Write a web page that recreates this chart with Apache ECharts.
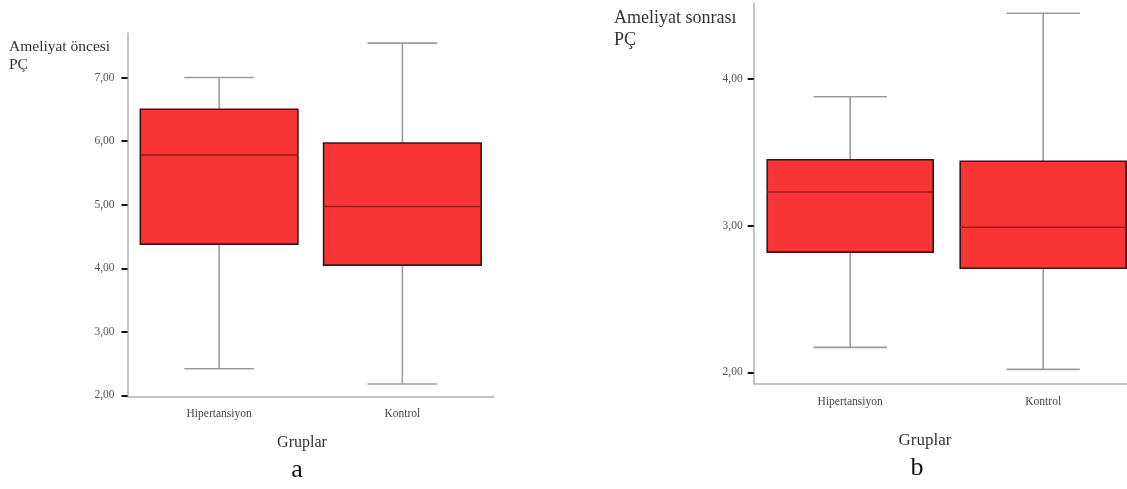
<!DOCTYPE html>
<html>
<head>
<meta charset="utf-8">
<script src="https://cdn.jsdelivr.net/npm/echarts@6/dist/echarts.min.js"></script>
<style>
  html, body { margin: 0; padding: 0; background: #fff; overflow: hidden; }
  /* the right panel's axis runs past the picture edge, so the canvas is a bit wider than the window */
  #main { width: 1142px; height: 489px; }
</style>
</head>
<body>
<div id="main"></div>
<script>
// groups
const categories = ['Hipertansiyon', 'Kontrol']

// a: Ameliyat öncesi PÇ
const preMin = [2.42, 2.18]
const preQ1 = [4.38, 4.05]
const preMedian = [5.78, 4.97]
const preQ3 = [6.50, 5.97]
const preMax = [7.00, 7.54]
const preTicks = [2, 3, 4, 5, 6, 7]

// b: Ameliyat sonrası PÇ
const postMin = [2.17, 2.02]
const postQ1 = [2.82, 2.71]
const postMedian = [3.23, 2.99]
const postQ3 = [3.45, 3.44]
const postMax = [3.88, 4.45]
const postTicks = [2, 3, 4]

const serif = 'Liberation Serif'

function rows (mins, q1s, meds, q3s, maxs) {
  return categories.map((c, i) => [i, mins[i], q1s[i], meds[i], q3s[i], maxs[i]])
}

// spss-like box: red box, grey whiskers with short caps
function renderBox (params, api) {
  const cat = api.value(0)
  const band = api.size([1, 0])[0]
  const bw = band * 0.86
  const cw = band * 0.38
  const pMin = api.coord([cat, api.value(1)])
  const pQ1 = api.coord([cat, api.value(2)])
  const pMed = api.coord([cat, api.value(3)])
  const pQ3 = api.coord([cat, api.value(4)])
  const pMax = api.coord([cat, api.value(5)])
  const x = pMin[0]
  const whisker = { stroke: '#9c9c9c', lineWidth: 1.6 }
  return {
    type: 'group',
    children: [
      { type: 'line', shape: { x1: x, y1: pMax[1], x2: x, y2: pQ3[1] }, style: whisker },
      { type: 'line', shape: { x1: x, y1: pQ1[1], x2: x, y2: pMin[1] }, style: whisker },
      { type: 'line', shape: { x1: x - cw / 2, y1: pMax[1], x2: x + cw / 2, y2: pMax[1] }, style: whisker },
      { type: 'line', shape: { x1: x - cw / 2, y1: pMin[1], x2: x + cw / 2, y2: pMin[1] }, style: whisker },
      {
        type: 'rect',
        shape: { x: x - bw / 2, y: pQ3[1], width: bw, height: pQ1[1] - pQ3[1] },
        style: { fill: '#f83434', stroke: '#3a1515', lineWidth: 1.6 }
      },
      { type: 'line', shape: { x1: x - bw / 2, y1: pMed[1], x2: x + bw / 2, y2: pMed[1] }, style: { stroke: '#9b1c1c', lineWidth: 1.5 } }
    ]
  }
}

function xAxisOf (grid, margin) {
  return {
    type: 'category',
    gridIndex: grid,
    data: categories,
    axisLine: { lineStyle: { color: '#b0b0b0', width: 1.5 } },
    axisTick: { alignWithLabel: true, length: 6, lineStyle: { color: '#111', width: 2 } },
    axisLabel: { margin: margin, color: '#444', fontFamily: serif, fontSize: 11.5 },
    splitLine: { show: false }
  }
}

function yAxisOf (grid, min, max, ticks, margin) {
  return {
    type: 'value',
    gridIndex: grid,
    min: min,
    max: max,
    axisLine: { show: true, lineStyle: { color: '#b0b0b0', width: 1.5 } },
    axisTick: { show: true, length: 6, customValues: ticks, lineStyle: { color: '#111', width: 2 } },
    axisLabel: {
      customValues: ticks,
      margin: margin,
      color: '#555',
      fontFamily: serif,
      fontSize: 11.5,
      formatter: v => v.toFixed(2).replace('.', ',')
    },
    splitLine: { show: false }
  }
}

function text (str, x, y, size, align, color) {
  return {
    type: 'text',
    x: x,
    y: y,
    style: { text: str, font: size + 'px "' + serif + '"', fill: color || '#333', align: align || 'left', verticalAlign: 'middle' }
  }
}

const chart = echarts.init(document.getElementById('main'))
chart.setOption({
  animation: false,
  grid: [
    { left: 127.5, top: 33, width: 366.5, height: 364 },
    { left: 753.7, top: 3, width: 386, height: 380.3 }
  ],
  xAxis: [xAxisOf(0, 11), xAxisOf(1, 13)],
  yAxis: [
    yAxisOf(0, 1.976, 7.70, preTicks, 13),
    yAxisOf(1, 1.925, 4.52, postTicks, 11)
  ],
  series: [
    {
      type: 'custom',
      xAxisIndex: 0,
      yAxisIndex: 0,
      renderItem: renderBox,
      encode: { x: 0, y: [1, 2, 3, 4, 5] },
      data: rows(preMin, preQ1, preMedian, preQ3, preMax)
    },
    {
      type: 'custom',
      xAxisIndex: 1,
      yAxisIndex: 1,
      renderItem: renderBox,
      encode: { x: 0, y: [1, 2, 3, 4, 5] },
      data: rows(postMin, postQ1, postMedian, postQ3, postMax)
    }
  ],
  graphic: [
    text('Ameliyat öncesi', 9, 47, 15.5),
    text('PÇ', 9, 65, 15.5),
    text('Ameliyat sonrası', 614, 18, 18),
    text('PÇ', 614, 40, 18),
    text('Gruplar', 302, 443, 16, 'center'),
    text('Gruplar', 925, 441, 17, 'center'),
    text('a', 297, 470, 26, 'center', '#111'),
    text('b', 917, 468, 26, 'center', '#111')
  ]
})
</script>
</body>
</html>
